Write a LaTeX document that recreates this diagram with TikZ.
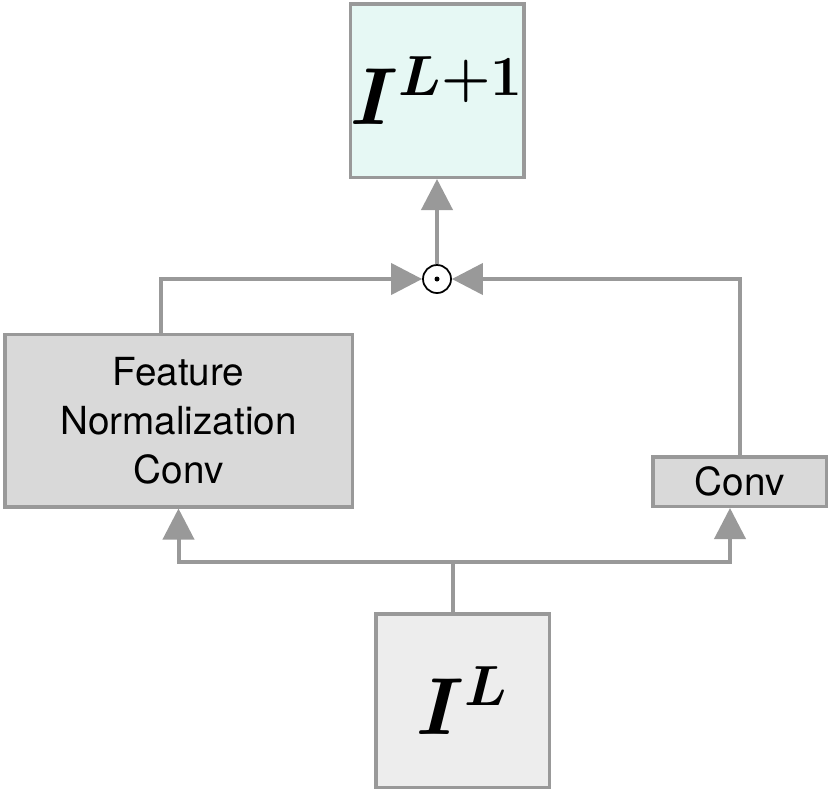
\documentclass[tikz,border=0pt]{standalone}
\usepackage{fix-cm}
\usepackage{fontspec}
\setsansfont{TeX Gyre Heros}
\usepackage{xcolor}
\usepackage{tikz}
\usetikzlibrary{arrows.meta,positioning,calc}
\definecolor{linegray}{HTML}{999999}
\definecolor{blockgray}{HTML}{D9D9D9}
\definecolor{inputgray}{HTML}{EDEDED}
\definecolor{outcyan}{HTML}{E6F8F4}
\tikzset{
    block/.style={rectangle, draw=linegray, line width=0.07cm, fill=blockgray, align=center, inner sep=0pt, font=\sffamily\fontsize{22}{28}\selectfont},
    tensor/.style={rectangle, draw=linegray, line width=0.07cm, minimum width=3.47cm, minimum height=3.47cm, inner sep=0pt, font=\fontsize{46}{50}\selectfont\boldmath},
    prodop/.style={circle, draw=black, line width=0.035cm, minimum size=0.56cm, inner sep=0pt},
    link/.style={draw=linegray, line width=0.08cm},
    flow/.style={link, -{Triangle[length=0.62cm, width=0.62cm]}},
}
\begin{document}
\begin{tikzpicture}
    \useasboundingbox (0,0) rectangle (16.6,-15.84);

    \node[tensor, fill=outcyan] (out) at (8.74,-1.81) {$I^{L+1}$};
    \node[prodop] (dot) at (8.74,-5.58) {};
    \fill (dot.center) circle (0.05cm);
    \node[block, minimum width=6.95cm, minimum height=3.45cm] (fnc) at (3.57,-8.41) {Feature\\Normalization\\Conv};
    \node[block, minimum width=3.47cm, minimum height=0.99cm] (conv) at (14.79,-9.63) {Conv};
    \node[tensor, fill=inputgray] (in) at (9.25,-14.01) {$I^{L}$};

    % input splits into both branches
    \coordinate (split) at ($(in.north)+(-0.19,1.0)$);
    \draw[link] ([xshift=-0.19cm]in.north) -- (split);
    \draw[flow] (split) -| (fnc.south);
    \draw[flow] (split) -| ([xshift=-0.19cm]conv.south);

    % branches meet at the product
    \draw[flow] ([xshift=-0.35cm]fnc.north) |- (dot.west);
    \draw[flow] (conv.north) |- (dot.east);
    \draw[flow] (dot.north) -- (out.south);
\end{tikzpicture}
\end{document}
